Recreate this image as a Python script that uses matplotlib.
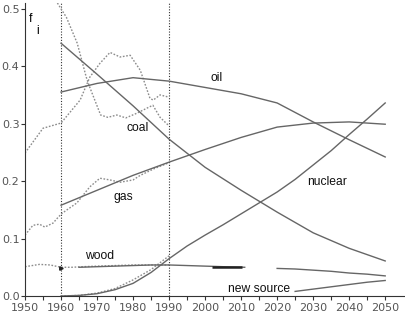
"""Energy source market shares f_i, history (dotted) and model (solid), 1950-2050."""
import numpy as np
import matplotlib
matplotlib.use('Agg')
import matplotlib.pyplot as plt
from matplotlib.ticker import MultipleLocator, FormatStrFormatter

# --- historical shares (dotted) ---
coal_hist_yr = [1959, 1961.5, 1964.5, 1967, 1968, 1971, 1973, 1975.5, 1978, 1981, 1984.5, 1985.5, 1987.5, 1990]
coal_hist = [0.51, 0.485, 0.44, 0.381, 0.363, 0.315, 0.311, 0.315, 0.310, 0.318, 0.329, 0.332, 0.311, 0.296]

oil_hist_yr = [1950, 1955, 1960, 1965.3, 1968, 1970.8, 1973.6, 1976.4, 1979.2, 1982, 1984.7, 1985.6, 1987.5, 1990]
oil_hist = [0.249, 0.292, 0.301, 0.341, 0.381, 0.405, 0.424, 0.416, 0.419, 0.393, 0.344, 0.341, 0.350, 0.346]

gas_hist_yr = [1950, 1952.2, 1954, 1955.5, 1957.8, 1959.2, 1960.3, 1964.4, 1968, 1970.8, 1973.6, 1976.4, 1980, 1982, 1986, 1990]
gas_hist = [0.106, 0.123, 0.125, 0.120, 0.127, 0.137, 0.144, 0.162, 0.190, 0.205, 0.202, 0.198, 0.202, 0.210, 0.222, 0.232]

wood_hist_yr = [1950, 1954, 1957, 1960, 1963, 1966, 1970, 1975, 1980, 1985, 1990]
wood_hist = [0.051, 0.055, 0.054, 0.050, 0.050, 0.051, 0.052, 0.053, 0.054, 0.054, 0.054]

nuc_hist_yr = [1960, 1965, 1970, 1975, 1980, 1985, 1990]
nuc_hist = [0.0, 0.001, 0.005, 0.013, 0.028, 0.046, 0.070]

# --- model shares (solid) ---
model_yr = [1960, 1970, 1980, 1990, 2000, 2010, 2020, 2030, 2040, 2050]
coal = [0.440, 0.386, 0.331, 0.273, 0.224, 0.184, 0.146, 0.110, 0.083, 0.061]
oil = [0.355, 0.370, 0.380, 0.374, 0.363, 0.352, 0.336, 0.303, 0.272, 0.242]
gas = [0.158, 0.184, 0.210, 0.233, 0.255, 0.276, 0.294, 0.301, 0.303, 0.299]

nuc_yr = [1960, 1965, 1970, 1975, 1980, 1985, 1990, 1995, 2000, 2005, 2010, 2015,
          2020, 2025, 2030, 2035, 2040, 2045, 2050]
nuclear = [0.0, 0.001, 0.004, 0.011, 0.022, 0.041, 0.065, 0.087, 0.106, 0.124, 0.143, 0.162,
           0.181, 0.203, 0.228, 0.253, 0.281, 0.308, 0.336]

wood_yr = [1965, 1970, 1975, 1980, 1985, 1990, 1995, 2000, 2005, 2011, 2016, 2020,
           2025, 2030, 2035, 2040, 2045, 2050]
wood = [0.050, 0.051, 0.052, 0.053, 0.054, 0.054, 0.053, 0.052, 0.051, 0.050, np.nan, 0.048,
        0.047, 0.045, 0.043, 0.040, 0.038, 0.035]
wood_dark_yr = [2002, 2010.3]
wood_dark = [0.0505, 0.0505]

new_yr = [2025, 2030, 2035, 2040, 2045, 2050]
new_source = [0.008, 0.012, 0.016, 0.020, 0.024, 0.027]

# label text and positions (year, share)
labels = ['oil', 'coal', 'gas', 'nuclear', 'wood', 'new source']
label_x = [2003.3, 1981.2, 1977.2, 2034.0, 1970.6, 2014.9]
label_y = [0.379, 0.292, 0.172, 0.198, 0.0696, 0.012]

solid_c = '#666666'
dot_c = '#8c8c8c'

fig = plt.figure(figsize=(4.05, 3.2), dpi=100)
ax = fig.add_axes([25 / 405, 24 / 320, 380 / 405, 293 / 320])

# reference years
for yr in (1960, 1990):
    ax.axvline(yr, color='#333333', ls=(0, (1, 1.5)), lw=0.8, zorder=1)

for xs, ys in [(coal_hist_yr, coal_hist), (oil_hist_yr, oil_hist), (gas_hist_yr, gas_hist),
               (wood_hist_yr, wood_hist), (nuc_hist_yr, nuc_hist)]:
    ax.plot(xs, ys, color=dot_c, ls=(0, (1.2, 1.2)), lw=1.0, zorder=2)

for xs, ys in [(model_yr, coal), (model_yr, oil), (model_yr, gas), (nuc_yr, nuclear),
               (wood_yr, wood), (new_yr, new_source)]:
    ax.plot(xs, ys, color=solid_c, lw=1.0, zorder=3)
ax.plot(wood_dark_yr, wood_dark, color='#222222', lw=1.8, solid_capstyle='butt', zorder=4)
ax.plot([1960], [0.049], marker='>', ms=2.5, color='#222222', zorder=4)

for t, x, y in zip(labels, label_x, label_y):
    ax.text(x, y, t, ha='center', va='center', fontsize=8.7, family='Liberation Sans', color='#111111')
ax.text(1951.5, 0.483, 'f', ha='center', va='center', fontsize=8.7, family='Liberation Sans')
ax.text(1953.4, 0.462, 'i', ha='center', va='center', fontsize=8.7, family='Liberation Sans')

ax.set_xlim(1950, 2055.5)
ax.set_ylim(0, 0.51)
ax.set_xticks(np.arange(1955, 2050, 10), minor=True)
ax.set_xticks(np.arange(1950, 2051, 10))
ax.yaxis.set_major_locator(MultipleLocator(0.1))
ax.yaxis.set_major_formatter(FormatStrFormatter('%.1f'))
ax.tick_params(axis='both', which='both', direction='out', length=3, width=0.8,
               color='#333333', labelsize=8, labelcolor='#555555')
ax.tick_params(axis='x', pad=2)
ax.tick_params(axis='y', pad=1)
for s in ('top', 'right'):
    ax.spines[s].set_visible(False)
for s in ('left', 'bottom'):
    ax.spines[s].set_color('#333333')
    ax.spines[s].set_linewidth(0.8)

plt.savefig('out.png', dpi=100)
plt.close()
